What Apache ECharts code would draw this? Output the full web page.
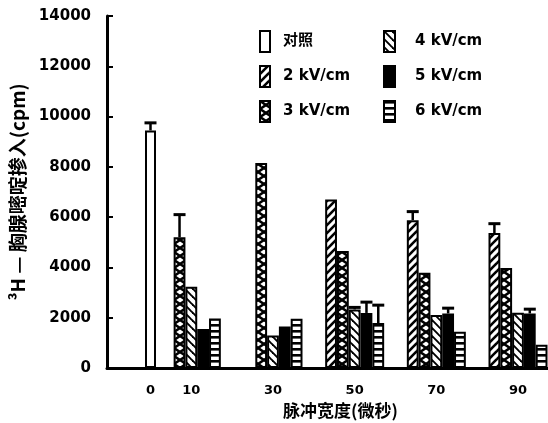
<!DOCTYPE html>
<html>
<head>
<meta charset="utf-8">
<script src="https://cdn.jsdelivr.net/npm/echarts@6/dist/echarts.min.js"></script>
<style>
html,body{margin:0;padding:0;background:#fff;}
#chart{width:548px;height:423px;}
</style>
</head>
<body>
<div id="chart"></div>
<script>
// ---- data ----
const pulseWidths = [0, 10, 30, 50, 70, 90];           // x categories (微秒)
const seriesNames = ['对照', '2 kV/cm', '3 kV/cm', '4 kV/cm', '5 kV/cm', '6 kV/cm'];
const ctrlValues = [9450, null, null, null, null, null];
const kv2Values  = [null, null, null, 6700, 5880, 5370];
const kv3Values  = [null, 5200, 8150, 4650, 3790, 3980];
const kv4Values  = [null, 3230, 1290, 2330, 2110, 2200];
const kv5Values  = [null, 1550, 1650, 2190, 2170, 2170];
const kv6Values  = [null, 1970, 1960, 1790, 1440, 920];
const ctrlErr = [300, null, null, null, null, null];
const kv2Err  = [null, null, null, null, 340, 370];
const kv3Err  = [null, 900, null, null, null, null];
const kv4Err  = [null, null, null, 80, null, null];
const kv5Err  = [null, null, null, 430, 210, 170];
const kv6Err  = [null, null, null, 710, null, null];
const yTicks = [0, 2000, 4000, 6000, 8000, 10000, 12000, 14000];

// ---- patterns ----
function tile(w, h, draw) {
  const c = document.createElement('canvas');
  c.width = w; c.height = h;
  const g = c.getContext('2d');
  g.fillStyle = '#fff'; g.fillRect(0, 0, w, h);
  g.strokeStyle = '#000'; g.fillStyle = '#000';
  draw(g);
  return { image: c, repeat: 'repeat' };
}
function line(g, x1, y1, x2, y2, lw) { g.lineWidth = lw; g.beginPath(); g.moveTo(x1, y1); g.lineTo(x2, y2); g.stroke(); }
const patDiagUp = tile(8, 8, g => { [-8, 0, 8].forEach(o => line(g, o - 1, 9, o + 9, -1, 2.6)); });
const patDiagDown = tile(8, 8, g => { [-8, 0, 8].forEach(o => line(g, o - 1, -1, o + 9, 9, 1.9)); });
const patCross = tile(12, 8, g => { const lw = 2.6; line(g, 0, 0, 12, 8, lw); line(g, 0, 8, 12, 0, lw);
  line(g, -12, 0, 0, 8, lw); line(g, 12, 0, 24, 8, lw); line(g, -12, 8, 0, 0, lw); line(g, 12, 8, 24, 0, lw); });
const patLadder = tile(4, 6, g => { g.fillRect(0, 0, 4, 2.6); });
const fills = ['#fff', patDiagUp, patCross, patDiagDown, '#000', patLadder];

const allValues = [ctrlValues, kv2Values, kv3Values, kv4Values, kv5Values, kv6Values];
const allErr = [ctrlErr, kv2Err, kv3Err, kv4Err, kv5Err, kv6Err];
const BAR_W = 11.8;

function toPairs(vals) {
  return pulseWidths.map((x, i) => vals[i] == null ? null : [x, vals[i]]).filter(Boolean);
}

const barSeries = seriesNames.map((name, si) => ({
  name: name,
  type: 'bar',
  xAxisIndex: si === 0 ? 1 : 0,
  barWidth: si === 0 ? 11 : BAR_W,
  barGap: '0%',
  data: toPairs(allValues[si]),
  itemStyle: { color: fills[si], borderColor: '#000', borderWidth: 2 },
  emphasis: { disabled: true },
  animation: false
}));

const errData = [];
allErr.forEach((errs, si) => {
  errs.forEach((e, i) => {
    if (e != null) errData.push([pulseWidths[i], allValues[si][i], e, si === 0 ? 2 : si - 1]);
  });
});

const errSeries = {
  type: 'custom',
  xAxisIndex: 0,
  data: errData,
  silent: true,
  z: 5,
  animation: false,
  renderItem: function (params, api) {
    const x = api.value(0), y = api.value(1), e = api.value(2), slot = api.value(3);
    const p0 = api.coord([x, y]);
    const p1 = api.coord([x, y + e]);
    const cx = p0[0] + (slot - 2) * BAR_W;
    return {
      type: 'group',
      children: [
        { type: 'line', shape: { x1: cx, y1: p0[1], x2: cx, y2: p1[1] }, style: { stroke: '#000', lineWidth: 2.5 } },
        { type: 'line', shape: { x1: cx - 6, y1: p1[1], x2: cx + 6, y2: p1[1] }, style: { stroke: '#000', lineWidth: 3 } }
      ]
    };
  }
};

const labelFont = { fontFamily: 'DejaVu Sans', fontWeight: 'bold', color: '#000' };
const GRID_L = 107, GRID_R = 548;
const X0_PX = 150.5, X90_PX = 518;   // where the 0 and 90 ticks sit
const kpx = (X90_PX - X0_PX) / 90;
const wantMin = -(X0_PX - GRID_L) / kpx, wantMax = (GRID_R - X0_PX) / kpx;
let xMin = wantMin, xMax = wantMax;

const chart = echarts.init(document.getElementById('chart'), null, { renderer: 'canvas' });
chart.setOption({
  backgroundColor: '#fff',
  animation: false,
  grid: { left: GRID_L, right: 548 - GRID_R, top: 16, bottom: 55, outerBoundsMode: 'none', containLabel: false },
  legend: [
    {
      data: seriesNames.slice(0, 3), orient: 'vertical', left: 254, top: 25,
      icon: 'rect', itemWidth: 10, itemHeight: 21, itemGap: 12, selectedMode: false,
      textStyle: Object.assign({ fontSize: 15, padding: [0, 0, 0, 8] }, labelFont, { fontFamily: 'DejaVu Sans, Noto Sans CJK SC' })
    },
    {
      data: seriesNames.slice(3), orient: 'vertical', left: 378, top: 25,
      icon: 'rect', itemWidth: 11, itemHeight: 21, itemGap: 12, selectedMode: false,
      textStyle: Object.assign({ fontSize: 15, padding: [0, 0, 0, 15] }, labelFont)
    }
  ],
  xAxis: [
    {
      type: 'value', min: xMin, max: xMax,
      name: '脉冲宽度(微秒)', nameLocation: 'middle', nameGap: 29,
      nameTextStyle: { fontFamily: 'Noto Sans CJK SC', fontWeight: 'bold', fontSize: 17, color: '#000', padding: [0, 0, 0, 26] },
      axisLine: { show: true, onZero: false, lineStyle: { color: '#000', width: 3 } },
      axisTick: { show: false },
      splitLine: { show: false },
      axisLabel: Object.assign({ customValues: pulseWidths, fontSize: 13, margin: 16 }, labelFont)
    },
    {
      type: 'value', min: xMin, max: xMax, show: false, position: 'bottom',
      axisLine: { onZero: false },
      splitLine: { show: false }
    }
  ],
  yAxis: {
    type: 'value', min: yTicks[0], max: yTicks[yTicks.length - 1], interval: 2000,
    name: '³H — 胸腺嘧啶掺入(cpm)', nameLocation: 'middle', nameGap: 80, nameRotate: 90,
    nameTextStyle: { fontFamily: 'Noto Sans CJK SC', fontWeight: 'bold', fontSize: 19, color: '#000' },
    axisLine: { show: true, onZero: false, lineStyle: { color: '#000', width: 3 } },
    axisTick: { show: true, inside: true, length: 6, lineStyle: { color: '#000', width: 2 } },
    splitLine: { show: false },
    axisLabel: Object.assign({ fontSize: 15, margin: 16, formatter: v => String(v) }, labelFont)
  },
  series: barSeries.concat([errSeries])
});

// The library widens a value base axis that carries bars; correct the extent so that
// the 0 and 90 ticks land where the reference places them.
for (let it = 0; it < 6; it++) {
  const p0 = chart.convertToPixel({ xAxisIndex: 0 }, 0);
  const p90 = chart.convertToPixel({ xAxisIndex: 0 }, 90);
  const k = (p90 - p0) / 90;
  const effMin = -(p0 - GRID_L) / k, effMax = (GRID_R - p0) / k;
  if (Math.abs(p0 - X0_PX) < 0.05 && Math.abs(p90 - X90_PX) < 0.05) break;
  xMin += wantMin - effMin;
  xMax += wantMax - effMax;
  chart.setOption({ xAxis: [{ min: xMin, max: xMax }, { min: xMin, max: xMax }] });
}
</script>
</body>
</html>
